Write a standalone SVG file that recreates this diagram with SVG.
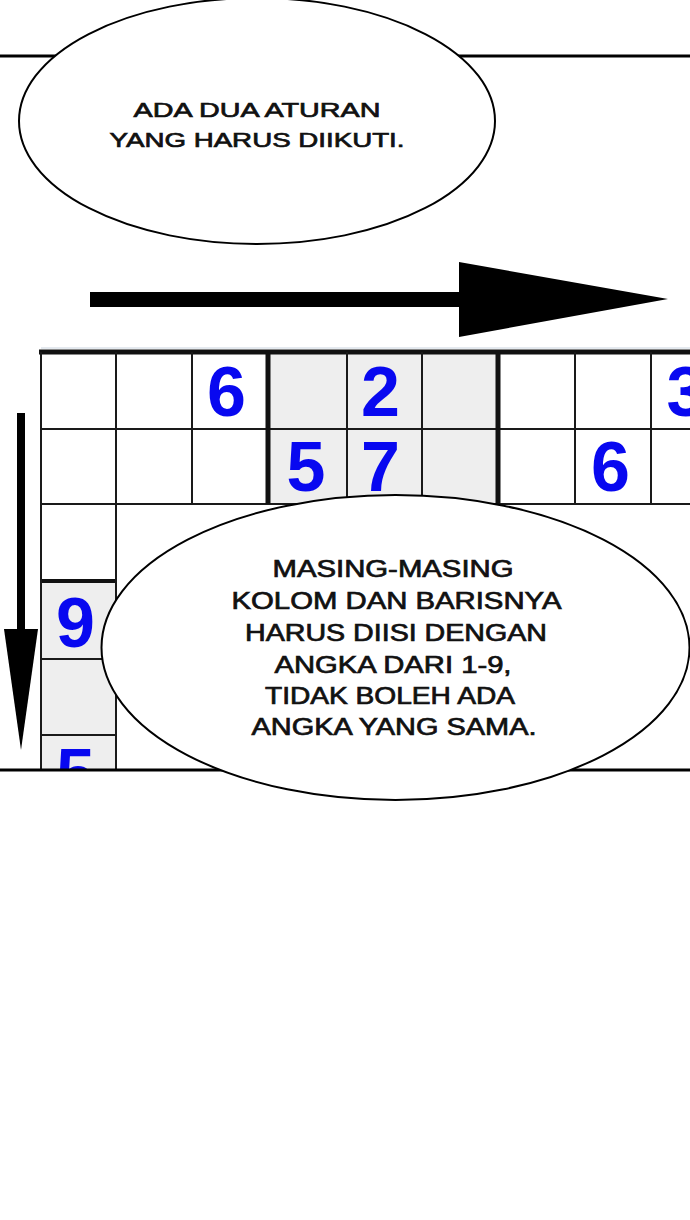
<svg xmlns="http://www.w3.org/2000/svg" width="690" height="1220" viewBox="0 0 690 1220">
  <style>
    .thin { stroke: #1a1a1a; stroke-width: 2; fill: none; }
    .thick { stroke: #111; stroke-width: 5; fill: none; }
    .grey { fill: #eeeeee; }
    .digit { font-family: "Liberation Sans", Arial, sans-serif; font-weight: bold; font-size: 70px; fill: #0808f0; text-anchor: middle; }
    .bubble { fill: #ffffff; stroke: #000; stroke-width: 2; }
    .say { font-family: "Liberation Sans", Arial, sans-serif; fill: #111; stroke: #111; stroke-width: 0.7; text-anchor: middle; }
    .panel { stroke: #000; stroke-width: 3; }
  </style>
  <defs>
    <clipPath id="panelClip">
      <rect x="0" y="0" width="690" height="769"/>
    </clipPath>
  </defs>
  <rect x="0" y="0" width="690" height="1220" fill="#ffffff"/>

  <g id="panel-border">
    <line class="panel" x1="0" y1="56" x2="690" y2="56"/>
  </g>

  <g id="sudoku-grid" clip-path="url(#panelClip)">
    <rect class="grey" x="268" y="352" width="230" height="152"/>
    <rect class="grey" x="41" y="581" width="75" height="190"/>
    <line x1="41" y1="348" x2="690" y2="348" stroke="#c9d3de" stroke-width="1"/>
    <line class="thick" x1="39" y1="352" x2="690" y2="352"/>
    <line class="thin" x1="41" y1="429" x2="690" y2="429"/>
    <line class="thin" x1="41" y1="504" x2="690" y2="504"/>
    <line class="thick" x1="41" y1="581" x2="116" y2="581" style="stroke-width:4"/>
    <line class="thin" x1="41" y1="659" x2="116" y2="659"/>
    <line class="thin" x1="41" y1="735" x2="116" y2="735"/>
    <line class="thin" x1="41" y1="352" x2="41" y2="770"/>
    <line class="thin" x1="116" y1="352" x2="116" y2="770"/>
    <line class="thin" x1="192" y1="352" x2="192" y2="504"/>
    <line class="thick" x1="268" y1="352" x2="268" y2="504"/>
    <line class="thin" x1="347" y1="352" x2="347" y2="504"/>
    <line class="thin" x1="422" y1="352" x2="422" y2="504"/>
    <line class="thick" x1="498" y1="352" x2="498" y2="504"/>
    <line class="thin" x1="575" y1="352" x2="575" y2="504"/>
    <line class="thin" x1="651" y1="352" x2="651" y2="504"/>
    <text class="digit" x="226.5" y="416">6</text>
    <text class="digit" x="380.5" y="416">2</text>
    <text class="digit" x="686" y="416">3</text>
    <text class="digit" x="306" y="491">5</text>
    <text class="digit" x="380.5" y="491">7</text>
    <text class="digit" x="610.5" y="491">6</text>
    <text class="digit" x="75.5" y="647">9</text>
    <text class="digit" x="75.5" y="798">5</text>
  </g>

  <g id="panel-bottom">
    <line class="panel" x1="0" y1="770" x2="690" y2="770"/>
  </g>

  <g id="connectors">
    <g id="arrow-right">
      <rect x="90" y="292" width="371" height="15" fill="#000"/>
      <polygon points="459,262 668,299 459,337" fill="#000"/>
    </g>
    <g id="arrow-down">
      <rect x="17" y="413" width="8" height="218" fill="#000"/>
      <polygon points="4,629 38,629 21,750" fill="#000"/>
    </g>
  </g>

  <g id="bubble-top">
    <ellipse class="bubble" cx="257" cy="121" rx="238" ry="123"/>
    <text class="say" font-size="21" x="257" y="117" textLength="247" lengthAdjust="spacingAndGlyphs">ADA DUA ATURAN</text>
    <text class="say" font-size="21" x="257" y="147" textLength="295" lengthAdjust="spacingAndGlyphs">YANG HARUS DIIKUTI.</text>
  </g>

  <g id="bubble-bottom">
    <ellipse class="bubble" cx="395.5" cy="647.5" rx="294" ry="152.5"/>
    <text class="say" font-size="23" x="393" y="577" textLength="241" lengthAdjust="spacingAndGlyphs">MASING-MASING</text>
    <text class="say" font-size="23" x="396.5" y="609" textLength="330" lengthAdjust="spacingAndGlyphs">KOLOM DAN BARISNYA</text>
    <text class="say" font-size="23" x="396" y="641" textLength="302" lengthAdjust="spacingAndGlyphs">HARUS DIISI DENGAN</text>
    <text class="say" font-size="23" x="393" y="673" textLength="237" lengthAdjust="spacingAndGlyphs">ANGKA DARI 1-9,</text>
    <text class="say" font-size="23" x="390" y="704" textLength="250" lengthAdjust="spacingAndGlyphs">TIDAK BOLEH ADA</text>
    <text class="say" font-size="23" x="394" y="735" textLength="285" lengthAdjust="spacingAndGlyphs">ANGKA YANG SAMA.</text>
  </g>
</svg>
